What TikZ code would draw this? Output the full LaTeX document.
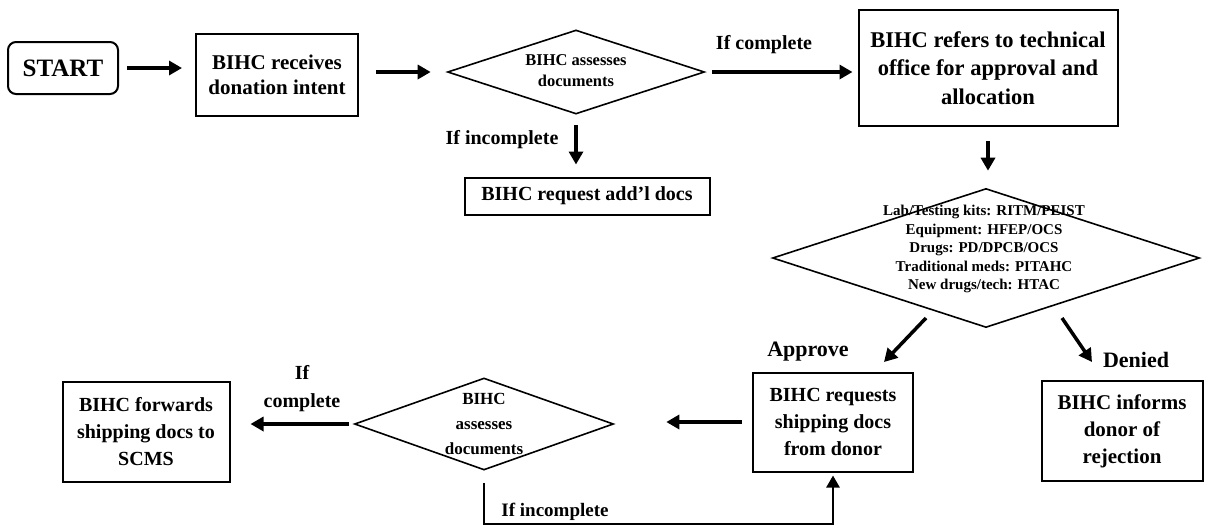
\documentclass[tikz,border=0pt]{standalone}
\usepackage{fontspec}
\setmainfont{Liberation Serif}
\usetikzlibrary{arrows.meta,shapes.geometric}
\begin{document}
\begin{tikzpicture}[x=1pt,y=-1pt,
  box/.style={draw, line width=2pt, align=center, inner sep=0pt,
    font=\bfseries\fontsize{20}{25}\selectfont},
  dia/.style={draw, line width=1.6pt, shape=diamond, inner sep=0pt},
  dtext/.style={align=center, font=\bfseries\fontsize{16.5}{21}\selectfont},
  lbl/.style={align=center, font=\bfseries\fontsize{20}{28}\selectfont},
  arr/.style={line width=3.5pt, -{Triangle[length=13pt,width=14pt]}},
]
\useasboundingbox (0,0) rectangle (1216,531);

% nodes
\node[box, rounded corners=8pt, minimum width=110pt, minimum height=52pt,
  font=\bfseries\fontsize{25}{28}\selectfont] (st) at (63,68) {START};
\node[box, minimum width=162pt, minimum height=82pt,
  font=\bfseries\fontsize{21}{25}\selectfont] (rec) at (277,75)
  {BIHC receives\\donation intent};
\node[dia, minimum width=257pt, minimum height=84pt] (d1) at (576,72) {};
\node[dtext] (d1t) at (576,71) {BIHC assesses\\documents};
\node[box, minimum width=259pt, minimum height=116pt,
  font=\bfseries\fontsize{22.5}{28.5}\selectfont] (b3) at (988,68)
  {BIHC refers to technical\\office for approval and\\allocation};
\node[box, minimum width=245pt, minimum height=37pt] (add) at (587,196)
  {BIHC request add'l docs};
\node[dia, minimum width=427pt, minimum height=139pt] (bd) at (986,258) {};
\node[align=center, font=\bfseries\fontsize{15}{18.5}\selectfont] (bdt) at (984,249)
  {Lab/Testing kits: RITM/PEIST\\Equipment: HFEP/OCS\\Drugs: PD/DPCB/OCS\\Traditional meds: PITAHC\\New drugs/tech: HTAC};
\node[box, minimum width=160pt, minimum height=99pt,
  font=\bfseries\fontsize{20}{27}\selectfont] (req) at (833,422)
  {BIHC requests\\shipping docs\\from donor};
\node[box, minimum width=161pt, minimum height=100pt,
  font=\bfseries\fontsize{21}{27}\selectfont] (inf) at (1122,431)
  {BIHC informs\\donor of\\rejection};
\node[dia, minimum width=259pt, minimum height=92pt] (d3) at (484,424) {};
\node[dtext, font=\bfseries\fontsize{17}{25}\selectfont] (d3t) at (d3.center)
  {BIHC\\assesses\\documents};
\node[box, minimum width=167pt, minimum height=100pt,
  font=\bfseries\fontsize{20}{27}\selectfont] (fwd) at (146,432)
  {BIHC forwards\\shipping docs to\\SCMS};

% labels
\node[lbl] (l1) at (764,45) {If complete};
\node[lbl] (l2) at (502,140) {If incomplete};
\node[lbl, font=\bfseries\fontsize{22}{28}\selectfont] (l3) at (808,352) {Approve};
\node[lbl, font=\bfseries\fontsize{22}{28}\selectfont] (l4) at (1136,360) {Denied};
\node[lbl] (l5) at (302,389) {If\\complete};
\node[lbl, font=\bfseries\fontsize{19}{25}\selectfont] (l6) at (555,512) {If incomplete};

% connectors
\draw[arr, shorten <=8pt, shorten >=13pt] (st.east) -- (st.east -| rec.west);
\draw[arr, shorten <=17pt, shorten >=16pt] (rec.east |- d1) -- (d1.west);
\draw[arr, shorten <=7pt, shorten >=5pt] (d1.east) -- (d1.east -| b3.west);
\draw[arr, shorten <=10pt, shorten >=12pt] (d1.south) -- (d1.south |- add.north);
\draw[arr, shorten <=14pt, shorten >=17pt] (b3.south) -- (b3.south |- bd.north);

\coordinate (la1) at (926,318); \coordinate (la2) at (884,362);
\coordinate (ra1) at (1062,318); \coordinate (ra2) at (1092,362);
\draw[arr] (la1) -- (la2);
\draw[arr] (ra1) -- (ra2);

\draw[arr, shorten <=10pt, shorten >=52pt] (req.west) -- (req.west -| d3.east);
\draw[arr, shorten <=5pt, shorten >=20pt] (d3.west) -- (d3.west -| fwd.east);

\coordinate (fb) at (484,524);
\draw[line width=2.5pt, -{Triangle[length=12pt,width=13pt]}]
  ([yshift=-12pt]d3.south) -- (d3.south |- fb) -- (req.south |- fb) -- ([yshift=-3pt]req.south);
\end{tikzpicture}
\end{document}
